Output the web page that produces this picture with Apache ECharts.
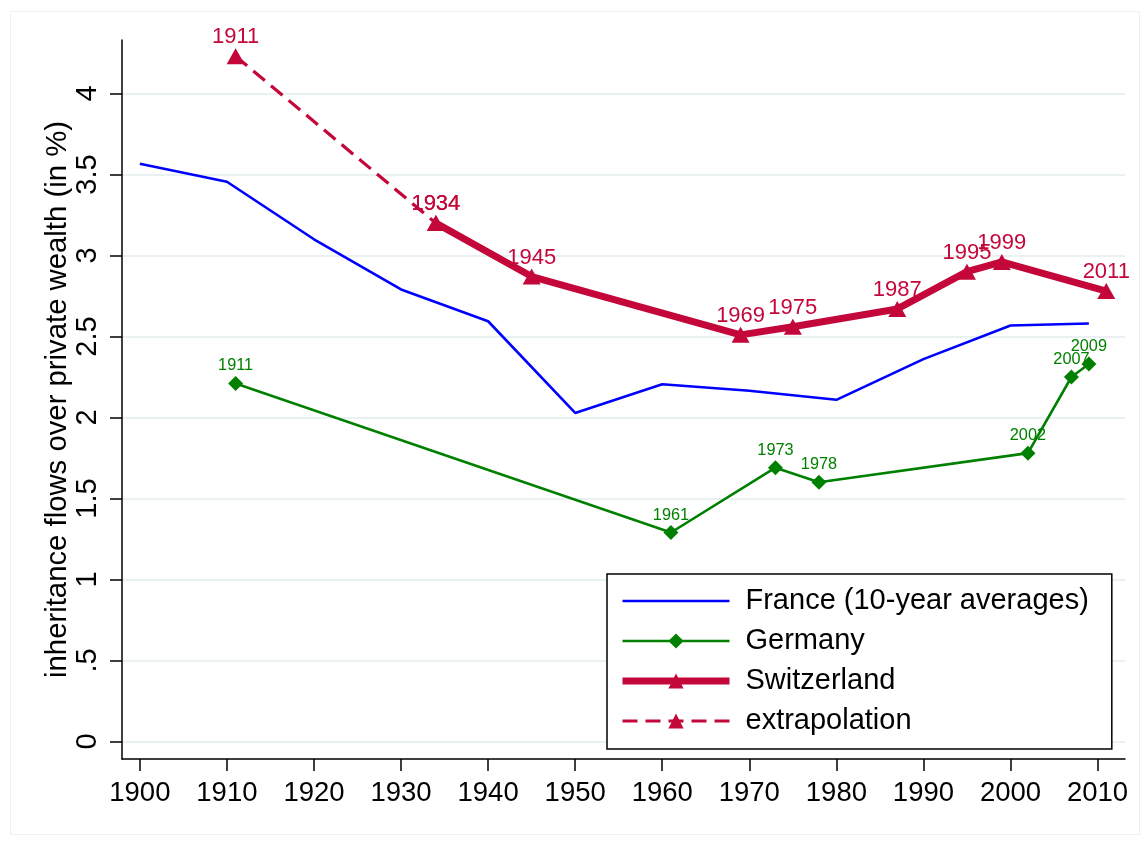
<!DOCTYPE html>
<html>
<head>
<meta charset="utf-8">
<script src="https://cdn.jsdelivr.net/npm/echarts@6/dist/echarts.min.js"></script>
<style>
html,body{margin:0;padding:0;background:#fff;}
#chart{width:1145px;height:841px;}
</style>
</head>
<body>
<div id="chart"></div>
<script>
// ---- data ----
const franceYears = [1900, 1910, 1920, 1930, 1940, 1950, 1960, 1970, 1980, 1990, 2000, 2009];
const franceValues = [3.566, 3.455, 3.10, 2.79, 2.594, 2.028, 2.205, 2.165, 2.109, 2.36, 2.568, 2.58];

const germanyYears = [1911, 1961, 1973, 1978, 2002, 2007, 2009];
const germanyValues = [2.21, 1.29, 1.69, 1.60, 1.78, 2.25, 2.33];

const swissYears = [1934, 1945, 1969, 1975, 1987, 1995, 1999, 2011];
const swissValues = [3.20, 2.87, 2.51, 2.56, 2.67, 2.90, 2.96, 2.78];

const extrapYears = [1911, 1934];
const extrapValues = [4.23, 3.20];

const xTicks = [1900, 1910, 1920, 1930, 1940, 1950, 1960, 1970, 1980, 1990, 2000, 2010];
const yTicks = [0, 0.5, 1, 1.5, 2, 2.5, 3, 3.5, 4];

const seriesNames = ['France (10-year averages)', 'Germany', 'Switzerland', 'extrapolation'];
const yTitle = 'inheritance flows over private wealth (in %)';

// ---- build ----
const pairs = (xs, ys) => xs.map((x, i) => [x, ys[i]]);
const FONT = '"Liberation Sans", Arial, sans-serif';
const RED = '#c4073a';
const GREEN = '#008000';
const BLUE = '#0000ff';

const chart = echarts.init(document.getElementById('chart'), null, {renderer: 'canvas'});
chart.setOption({
  backgroundColor: '#ffffff',
  animation: false,
  textStyle: {fontFamily: FONT},
  graphic: [{
    type: 'rect', left: 8, top: 9, z: -10,
    shape: {width: 1129, height: 823},
    style: {fill: 'none', stroke: '#edf1f4', lineWidth: 1}
  }],
  grid: {left: 122, right: 20, top: 40, bottom: 82, containLabel: false},
  xAxis: {
    type: 'value',
    min: 1897.95, max: 2013.15,
    axisLine: {show: true, onZero: false, lineStyle: {color: '#000', width: 1.5}},
    axisTick: {show: true, length: 12, customValues: xTicks, lineStyle: {color: '#000', width: 1.5}},
    axisLabel: {customValues: xTicks, margin: 20, fontSize: 27.5, color: '#000', fontFamily: FONT,
      formatter: v => String(v)},
    splitLine: {show: false}
  },
  yAxis: {
    type: 'value',
    min: -0.108, max: 4.33,
    name: yTitle,
    nameLocation: 'middle',
    nameGap: 50,
    nameMoveOverlap: false,
    nameRotate: 90,
    nameTextStyle: {fontSize: 29.3, color: '#000', fontFamily: FONT},
    axisLine: {show: true, onZero: false, lineStyle: {color: '#000', width: 1.5}},
    axisTick: {show: true, length: 12, customValues: yTicks, lineStyle: {color: '#000', width: 1.5}},
    axisLabel: {customValues: yTicks, rotate: 90, align: 'center', verticalAlign: 'bottom', margin: 20,
      fontSize: 29, color: '#000', fontFamily: FONT,
      formatter: v => (v === 0.5 ? '.5' : String(v))},
    splitLine: {show: true, lineStyle: {color: '#eaf1f3', width: 2}}
  },
  legend: {
    orient: 'vertical',
    left: 607, top: 574,
    padding: [12, 23, 13, 12],
    backgroundColor: '#fff',
    borderColor: '#000',
    borderWidth: 1.5,
    borderRadius: 0,
    itemWidth: 107,
    itemHeight: 19,
    itemGap: 10,
    lineStyle: {width: 'inherit'},
    data: [
      {name: seriesNames[0], itemStyle: {opacity: 0}},
      {name: seriesNames[1]},
      {name: seriesNames[2]},
      {name: seriesNames[3]}
    ],
    textStyle: {fontSize: 29, color: '#000', lineHeight: 30, fontFamily: FONT, padding: [0, 0, 0, 11]}
  },
  series: [
    {
      name: seriesNames[0], type: 'line', data: pairs(franceYears, franceValues),
      symbol: 'none', lineStyle: {color: BLUE, width: 2.6}, itemStyle: {color: BLUE}, z: 2
    },
    {
      name: seriesNames[1], type: 'line', data: pairs(germanyYears, germanyValues),
      symbol: 'diamond', symbolSize: 15, showAllSymbol: true,
      lineStyle: {color: GREEN, width: 2.6}, itemStyle: {color: GREEN},
      label: {show: true, position: 'top', distance: 2, color: GREEN, fontSize: 16.3, fontFamily: FONT,
        formatter: p => String(p.value[0])},
      z: 3
    },
    {
      name: seriesNames[3], type: 'line', data: pairs(extrapYears, extrapValues),
      symbol: 'triangle', symbolSize: [18, 16], showAllSymbol: true,
      lineStyle: {color: RED, width: 3.2, type: [15, 8]}, itemStyle: {color: RED},
      label: {show: true, position: 'top', distance: 0, color: RED, fontSize: 22, fontFamily: FONT,
        formatter: p => String(p.value[0])},
      z: 4
    },
    {
      name: seriesNames[2], type: 'line', data: pairs(swissYears, swissValues),
      symbol: 'triangle', symbolSize: [18, 16], showAllSymbol: true,
      lineStyle: {color: RED, width: 7}, itemStyle: {color: RED},
      label: {show: true, position: 'top', distance: 0, color: RED, fontSize: 22, fontFamily: FONT,
        formatter: p => String(p.value[0])},
      z: 5
    }
  ]
});
</script>
</body>
</html>
